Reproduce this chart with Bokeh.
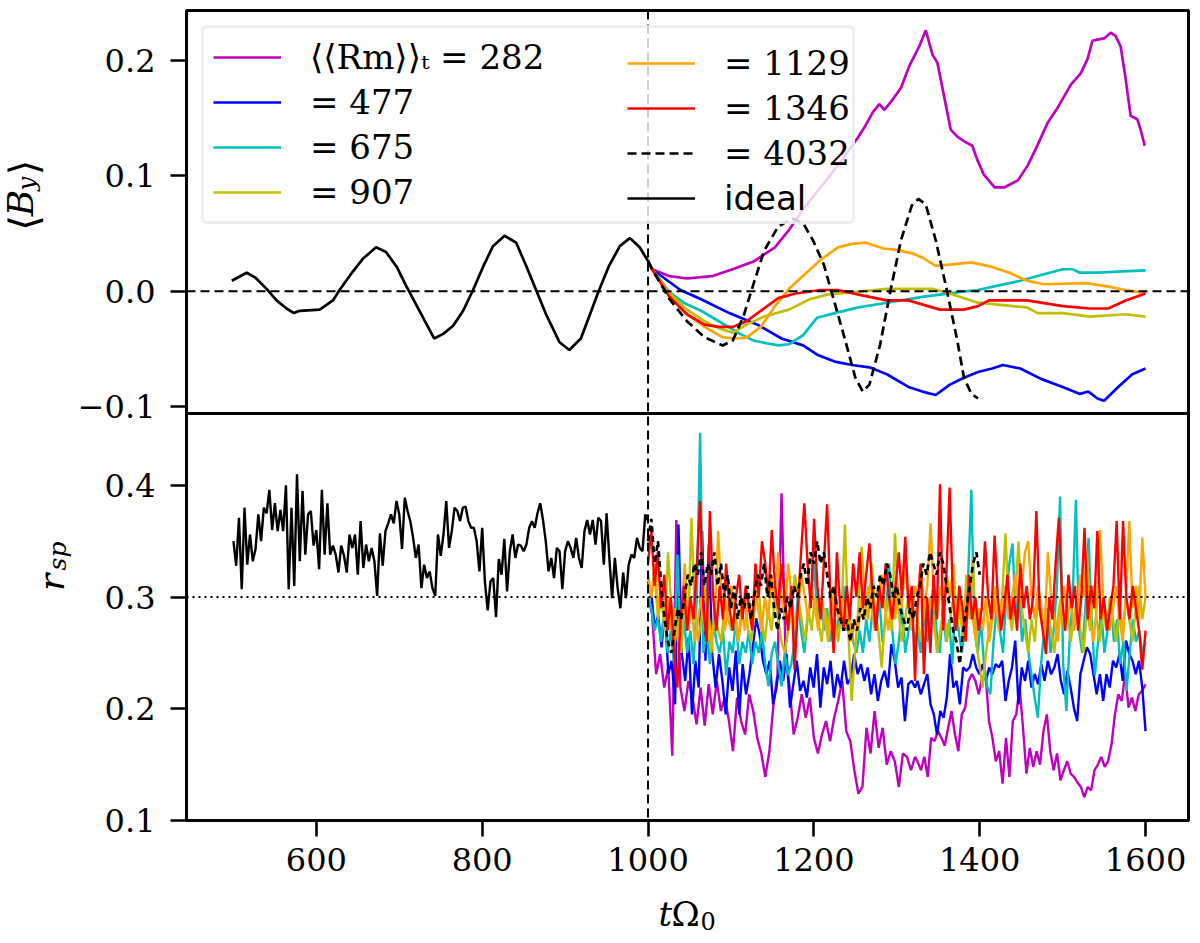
import numpy as np
from bokeh.plotting import figure
from bokeh.layouts import column, row
from bokeh.models import Range1d, FixedTicker, Span, Legend, LegendItem
from bokeh.core.properties import value
from bokeh.embed import file_html
from bokeh.resources import INLINE

# ---------------- data: top panel <B_y> ----------------
ideal_t_top = [498, 516, 526, 540, 552, 564, 573, 580, 604, 620, 628, 644, 656, 672, 684, 697, 708, 725,
               742, 753, 765, 777, 789, 801, 813, 827, 841, 853, 865, 877, 893, 905, 919, 929, 941, 953,
               966, 978, 990, 1000]
ideal_b_top = [0.009, 0.016, 0.012, 0.002, -0.008, -0.015, -0.019, -0.017, -0.016, -0.008, 0.001, 0.017,
               0.028, 0.038, 0.034, 0.021, 0.005, -0.018, -0.041, -0.037, -0.030, -0.017, 0.001, 0.021,
               0.039, 0.048, 0.042, 0.022, 0.001, -0.020, -0.044, -0.051, -0.041, -0.022, 0.001, 0.022,
               0.039, 0.046, 0.038, 0.026]

m_t = [1000, 1005, 1026, 1047, 1077, 1102, 1128, 1153, 1170, 1187, 1216, 1235, 1253, 1261, 1271, 1279, 1285,
       1293, 1305, 1315, 1327, 1335, 1343, 1349, 1357, 1365, 1373, 1381, 1391, 1397, 1405, 1418, 1430, 1446,
       1458, 1470, 1482, 1494, 1510, 1522, 1530, 1536, 1542, 1550, 1558, 1564, 1570, 1576, 1582, 1590, 1594, 1599]
m_b = [0.026, 0.019, 0.013, 0.011, 0.013, 0.019, 0.026, 0.038, 0.053, 0.071, 0.097, 0.115, 0.133, 0.142, 0.155,
       0.162, 0.157, 0.164, 0.176, 0.195, 0.212, 0.226, 0.205, 0.198, 0.169, 0.140, 0.134, 0.130, 0.126, 0.114,
       0.101, 0.090, 0.090, 0.096, 0.109, 0.127, 0.146, 0.159, 0.179, 0.189, 0.201, 0.217, 0.218, 0.219, 0.224,
       0.221, 0.212, 0.184, 0.152, 0.149, 0.140, 0.126]

b_t = [1000, 1005, 1039, 1064, 1098, 1132, 1161, 1187, 1204, 1225, 1246, 1267, 1288, 1314, 1331, 1347, 1364,
       1381, 1398, 1415, 1428, 1449, 1474, 1500, 1521, 1531, 1542, 1550, 1567, 1584, 1600]
b_b = [0.026, 0.019, 0.001, -0.007, -0.019, -0.029, -0.041, -0.047, -0.055, -0.061, -0.064, -0.066, -0.072,
       -0.083, -0.087, -0.090, -0.081, -0.075, -0.070, -0.067, -0.064, -0.067, -0.076, -0.083, -0.089, -0.087,
       -0.093, -0.095, -0.083, -0.072, -0.067]

c_t = [1000, 1005, 1026, 1043, 1064, 1090, 1111, 1128, 1157, 1170, 1187, 1204, 1225, 1254, 1288, 1331, 1373,
       1398, 1423, 1449, 1474, 1500, 1512, 1521, 1542, 1567, 1600]
c_b = [0.026, 0.019, -0.001, -0.010, -0.017, -0.028, -0.037, -0.043, -0.047, -0.046, -0.038, -0.023, -0.019,
       -0.014, -0.010, -0.005, -0.001, 0.001, 0.005, 0.009, 0.014, 0.019, 0.019, 0.016, 0.016, 0.017, 0.018]

y_t = [1000, 1005, 1026, 1047, 1068, 1085, 1102, 1119, 1140, 1170, 1195, 1216, 1246, 1288, 1343, 1364, 1398,
       1440, 1457, 1470, 1500, 1533, 1576, 1600]
y_b = [0.026, 0.019, -0.002, -0.016, -0.026, -0.032, -0.036, -0.029, -0.022, -0.016, -0.007, -0.003, -0.001,
       0.002, 0.002, -0.002, -0.010, -0.013, -0.014, -0.019, -0.019, -0.022, -0.020, -0.022]

o_t = [1000, 1005, 1026, 1047, 1068, 1090, 1107, 1119, 1136, 1153, 1170, 1191, 1208, 1229, 1246, 1263, 1284,
       1297, 1318, 1331, 1347, 1364, 1390, 1415, 1436, 1457, 1478, 1529, 1555, 1576, 1593, 1600]
o_b = [0.026, 0.019, -0.004, -0.020, -0.031, -0.040, -0.041, -0.040, -0.031, -0.013, 0.002, 0.016, 0.027,
       0.038, 0.041, 0.042, 0.037, 0.036, 0.033, 0.029, 0.022, 0.023, 0.025, 0.021, 0.016, 0.009, 0.006,
       0.007, 0.004, 0.001, -0.001, -0.001]

r_t = [1000, 1005, 1026, 1047, 1068, 1085, 1102, 1119, 1136, 1157, 1178, 1208, 1229, 1254, 1288, 1314, 1352,
       1381, 1398, 1411, 1457, 1500, 1533, 1555, 1576, 1600]
r_b = [0.026, 0.019, -0.005, -0.020, -0.029, -0.031, -0.031, -0.026, -0.017, -0.006, -0.002, 0.001, 0.001,
       -0.003, -0.008, -0.008, -0.016, -0.016, -0.013, -0.008, -0.008, -0.013, -0.015, -0.015, -0.008, -0.002]

d_t = [1000, 1005, 1026, 1047, 1068, 1090, 1102, 1115, 1128, 1140, 1157, 1174, 1187, 1199, 1212, 1225, 1238,
       1250, 1259, 1267, 1280, 1292, 1305, 1318, 1326, 1335, 1347, 1360, 1373, 1381, 1390, 1398]
d_b = [0.026, 0.019, -0.007, -0.026, -0.040, -0.047, -0.043, -0.022, 0.008, 0.035, 0.056, 0.063, 0.059, 0.044,
       0.023, -0.010, -0.043, -0.075, -0.087, -0.081, -0.046, -0.001, 0.044, 0.074, 0.080, 0.075, 0.044,
       0.002, -0.043, -0.075, -0.089, -0.093]

# ---------------- data: bottom panel r_sp ----------------
ideal_r = [.350, .328, .371, .307, .380, .329, .356, .332, .343, .374,
           .350, .380, .375, .396, .360, .384, .359, .378, .359, .400,
           .307, .380, .310, .410, .332, .395, .338, .374, .377, .346,
           .360, .325, .396, .338, .384, .338, .346, .338, .322, .346,
           .337, .322, .356, .344, .356, .320, .368, .326, .347, .332,
           .344, .332, .301, .357, .328, .359, .366, .374, .366, .386,
           .374, .343, .389, .377, .368, .353, .335, .347, .308, .329,
           .317, .323, .308, .301, .356, .337, .356, .386, .344, .359,
           .380, .377, .368, .380, .381, .368, .362, .362, .350, .323,
           .362, .313, .288, .314, .317, .282, .334, .320, .352, .305,
           .341, .356, .335, .347, .346, .341, .347, .362, .368, .362,
           .375, .384, .369, .350, .323, .335, .317, .344, .341, .307,
           .341, .350, .344, .335, .353, .335, .326, .359, .369, .356,
           .369, .347, .371, .368, .329, .375, .335, .299, .335, .308,
           .290, .322, .299, .329, .338, .335, .353, .344, .341, .374, .368]

m_r1 = [.300, .285, .231, .249, .219, .237, .158, .369, .219, .198, .225, .210, .186, .219, .185, .222, .195,
        .225, .198, .210, .189, .162, .210, .189, .177, .213, .198, .174, .160, .139, .162, .204, .231, .393,
        .249, .219, .177, .192, .213, .192, .210, .174, .160, .177, .189, .171, .192, .207, .225, .180, .171,
        .145, .124, .130, .183, .160, .198, .165, .183, .150, .162, .153, .130, .160, .157, .145, .157]
m_r2 = [.153, .145, .157, .139, .174, .171, .180, .174, .167, .183, .198, .177, .162, .195, .201, .225, .231,
        .225, .213, .228, .231, .189, .174, .153, .162, .133, .174, .139, .189, .195, .219, .183, .142, .165,
        .148, .162, .150, .180, .195, .162, .145, .160, .136, .145, .153, .142, .139, .134, .130, .121, .130,
        .127, .145, .150, .157, .148, .153, .168, .195, .213, .207, .231, .201, .210, .198, .213, .216, .222]

b_r1 = [.314, .302, .272, .284, .255, .290, .231, .243, .204, .365, .249, .225, .264, .195, .243, .219, .359,
        .243, .347, .249, .219, .249, .225, .195, .237, .216, .252, .195, .240, .213, .231, .255, .281, .267,
        .243, .231, .243, .204, .219, .243, .225, .249, .201, .222, .243, .216, .225, .210, .237, .219, .249,
        .201, .237, .222, .243, .210, .231, .219, .243, .222, .228, .249, .231, .240, .225, .237, .213, .231,
        .207, .225, .234, .219, .258, .243, .219, .228, .189, .222, .225, .219]
b_r2 = [.225, .213, .222, .231, .204, .195, .177, .198, .192, .210, .249, .219, .225, .204, .237, .234, .237,
        .249, .237, .231, .240, .225, .237, .231, .240, .237, .243, .207, .225, .237, .261, .204, .237, .225,
        .243, .219, .231, .222, .240, .225, .243, .231, .237, .249, .225, .213, .234, .219, .201, .189, .231,
        .243, .255, .249, .231, .213, .231, .207, .231, .219, .243, .237, .249, .225, .261, .249, .243, .231,
        .243, .219, .180]

c_r1 = [.30, .29, .27, .28, .26, .29, .25, .27, .24, .338, .26, .28, .25, .27, .24, .30, .447, .25, .27, .24,
        .28, .26, .25, .27, .23, .26, .25, .28, .24, .26, .25, .27, .24, .26, .25, .27, .24, .22, .25, .26,
        .24, .22, .25, .23, .24, .26, .30, .27, .25, .28, .30, .33, .28, .30, .27, .29, .26, .28, .27, .29,
        .31, .27, .28, .26, .25, .27, .25, .28, .26, .29, .27, .30, .26, .28, .33, .27, .24, .26, .29, .25,
        .27, .28, .26]
c_r2 = [.27, .25, .29, .26, .28, .31, .27, .25, .29, .26, .28, .24, .30, .27, .25, .28, .32, .396, .27, .25,
        .28, .24, .22, .213, .26, .29, .27, .25, .30, .33, .348, .28, .31, .26, .28, .25, .23, .21, .192, .24,
        .27, .29, .25, .27, .31, .390, .24, .198, .26, .30, .387, .27, .25, .29, .353, .28, .23, .26, .29, .25,
        .27, .30, .26, .28, .24, .26, .216, .25, .28, .26, .27, .25, .26]

y_r1 = [.31, .30, .32, .28, .30, .27, .34, .29, .26, .28, .25, .30, .27, .371, .29, .26, .28, .31, .27, .25,
        .29, .27, .26, .30, .28, .27, .29, .26, .28, .30, .27, .26, .29, .31, .28, .26, .29, .27, .30, .28,
        .26, .25, .27, .29, .32, .30, .28, .26, .29, .27, .30, .28, .26, .29, .27, .30, .28, .26, .29, .365,
        .27, .207, .25, .29, .345, .30, .28, .33, .29, .27, .237, .28, .30, .27, .357, .29, .26, .28, .30, .27, .29]
y_r2 = [.28, .26, .29, .27, .30, .28, .25, .27, .29, .26, .28, .30, .27, .29, .26, .32, .28, .335, .26, .24,
        .219, .25, .27, .29, .31, .28, .30, .357, .29, .27, .30, .350, .29, .27, .25, .28, .26, .30, .28, .26,
        .29, .27, .25, .28, .30, .27, .29, .26, .28, .30, .27, .25, .29, .27, .31, .28, .26, .29, .27, .30,
        .28, .26, .29, .27, .30, .28, .26, .29, .31, .28, .30]

o_r1 = [.32, .30, .33, .29, .31, .28, .30, .27, .29, .26, .28, .33, .27, .29, .26, .28, .30, .27, .29, .26,
        .28, .359, .30, .27, .29, .31, .28, .26, .29, .27, .30, .28, .31, .29, .27, .30, .28, .32, .29, .34,
        .30, .28, .33, .30, .27, .29, .32, .30, .28, .31, .29, .27, .30, .28, .26, .29, .31, .28, .30, .27,
        .29, .26, .28, .27, .30, .28, .31, .29, .27, .30, .32, .29, .27, .30, .28, .31, .29, .33, .30, .28, .31]
o_r2 = [.30, .33, .29, .31, .366, .30, .28, .31, .29, .32, .30, .33, .28, .30, .27, .29, .31, .28, .26, .29,
        .27, .30, .26, .28, .30, .27, .29, .31, .28, .30, .32, .29, .31, .34, .35, .30, .28, .31, .29, .27,
        .34, .30, .28, .26, .29, .31, .28, .30, .27, .29, .32, .30, .34, .28, .26, .29, .36, .30, .28, .27,
        .29, .31, .28, .26, .30, .368, .29, .31, .28, .353, .30]

r_r1 = [.33, .36, .31, .34, .29, .32, .27, .30, .25, .219, .28, .31, .27, .30, .28, .33, .386, .29, .26, .377,
        .30, .27, .31, .28, .33, .29, .27, .30, .32, .28, .31, .29, .27, .33, .30, .35, .33, .30, .36, .31,
        .29, .33, .30, .27, .31, .235, .29, .34, .384, .33, .29, .37, .31, .28, .33, .383, .30, .25, .34, .29,
        .27, .31, .28, .33, .30, .34, .29, .32, .348, .30, .27, .31, .29, .33, .30, .28, .31, .34, .30, .354,
        .29, .31, .225]
r_r2 = [.29, .33, .231, .30, .25, .32, .28, .401, .27, .32, .398, .30, .27, .31, .29, .26, .32, .28, .30, .27,
        .29, .35, .30, .28, .355, .30, .27, .29, .32, .28, .30, .27, .33, .29, .31, .28, .30, .377, .29, .27,
        .249, .30, .28, .33, .371, .30, .27, .32, .29, .31, .27, .30, .362, .28, .31, .29, .359, .28, .30, .27,
        .29, .31, .368, .28, .368, .30, .28, .31, .29, .27, .235, .27]

d_r = [.35, .37, .33, .35, .31, .28, .26, .25, .27, .29, .28, .30, .32, .31, .33, .32, .34, .31, .33, .32,
       .34, .31, .33, .30, .32, .29, .31, .28, .30, .29, .31, .28, .30, .32, .31, .33, .30, .32, .29, .27,
       .29, .28, .30, .29, .31, .30, .32, .33, .31, .34, .33, .35, .33, .34, .32, .30, .31, .29, .28, .27,
       .28, .26, .28, .27, .29, .28, .30, .29, .31, .30, .32, .31, .33, .32, .30, .31, .29, .28, .27, .29,
       .28, .30, .31, .33, .32, .34, .33, .32, .34, .33, .31, .29, .27, .26, .24, .27, .29, .31, .33, .34, .32]

labels_a = ["⟨⟨Rm⟩⟩ₜ = 282", "= 477", "= 675", "= 907"]
labels_b = ["= 1129", "= 1346", "= 4032"]
label_ideal = "ideal"
top_ticks = [-0.1, 0.0, 0.1, 0.2]
top_tick_labels = ["−0.1", "0.0", "0.1", "0.2"]
bot_ticks = [0.1, 0.2, 0.3, 0.4]
bot_tick_labels = ["0.1", "0.2", "0.3", "0.4"]
x_ticks = [600, 800, 1000, 1200, 1400, 1600]

MAG, BLU, CYA, YEL, ORA, RED = "#bf00bf", "#0000ff", "#00bfbf", "#bfbf00", "#ffa500", "#ff0000"
SERIF = "DejaVu Serif"
SANS = "DejaVu Sans"

# ---------------- panel geometry (two stacked panels in one frame) ----------------
TOP_LO, TOP_HI = -0.106, 0.2432
BOT_LO, BOT_HI = 0.1, 0.4643
H_TOP, H_BOT = 403, 407                       # pixel heights of the two panels
bot_upp = (BOT_HI - BOT_LO) / H_BOT           # units per pixel, bottom panel
top_upp = (TOP_HI - TOP_LO) / H_TOP           # units per pixel, top panel
y_main = Range1d(BOT_LO, BOT_HI + H_TOP * bot_upp)
y_top = Range1d(TOP_LO - H_BOT * top_upp, TOP_HI)


def top_to_main(v):
    return BOT_LO + (H_BOT + (v - TOP_LO) / top_upp) * bot_upp


def seg_times(t0, t1, n):
    return list(np.linspace(t0, t1, n))


def two_seg(s1, s2):
    return seg_times(1000, 1322, len(s1)) + seg_times(1325, 1600, len(s2)), list(s1) + list(s2)


def strip(w, h):
    s = figure(width=w, height=h, x_range=Range1d(0, w), y_range=Range1d(0, h), title=None,
               x_axis_location=None, y_axis_location=None, toolbar_location=None,
               output_backend="svg", min_border=0, outline_line_color=None,
               background_fill_color="white", border_fill_color="white")
    s.xgrid.visible = False
    s.ygrid.visible = False
    return s


def put_text(s, x, y, txt, size, italic=True, angle=0.0, align="center"):
    s.text(x=[x], y=[y], text=[txt], angle=angle, text_color="black",
           text_font=value(SERIF), text_font_size=value(size),
           text_font_style=value("italic" if italic else "normal"),
           text_align=value(align), text_baseline=value("alphabetic"))


# ---------------- main figure ----------------
p = figure(width=1118, height=888, x_range=Range1d(443.4, 1651.8), y_range=y_main, title=None,
           toolbar_location=None, output_backend="svg",
           min_border_left=111, min_border_right=4, min_border_top=10, min_border_bottom=68,
           background_fill_color="white", border_fill_color="white")
p.extra_y_ranges = {"top": y_top}
p.outline_line_color = "black"
p.outline_line_width = 3
p.xgrid.visible = False
p.ygrid.visible = False
for ax in p.axis:
    ax.axis_line_width = 3
    ax.axis_line_color = "black"
    ax.major_tick_line_width = 2.6
    ax.major_tick_line_color = "black"
    ax.major_tick_out = 16
    ax.major_tick_in = 0
    ax.minor_tick_line_color = None
    ax.major_label_text_font = SERIF
    ax.major_label_text_font_size = "32px"
    ax.major_label_text_color = "black"
p.yaxis.major_label_standoff = 15
p.xaxis.major_label_standoff = 11
p.xaxis.ticker = FixedTicker(ticks=x_ticks)

tick_pos = [top_to_main(v) for v in top_ticks] + list(bot_ticks)
tick_txt = top_tick_labels + bot_tick_labels
p.yaxis.ticker = FixedTicker(ticks=tick_pos)
p.yaxis.major_label_overrides = {tp: tt for tp, tt in zip(tick_pos, tick_txt)}

# reference lines
p.add_layout(Span(location=0, dimension="width", y_range_name="top", line_color="black",
                  line_width=2, line_dash="9 5"))
p.add_layout(Span(location=0.3, dimension="width", line_color="black", line_width=2, line_dash="2 4"))
p.add_layout(Span(location=1000, dimension="height", line_color="black", line_width=2, line_dash="9 5"))
p.add_layout(Span(location=BOT_HI, dimension="width", line_color="black", line_width=3))

# top panel lines
LW = 2.7
kw_top = dict(y_range_name="top", line_width=LW)
rm = p.line(m_t, m_b, line_color=MAG, **kw_top)
rb = p.line(b_t, b_b, line_color=BLU, **kw_top)
rc = p.line(c_t, c_b, line_color=CYA, **kw_top)
ry = p.line(y_t, y_b, line_color=YEL, **kw_top)
ro = p.line(o_t, o_b, line_color=ORA, **kw_top)
rr = p.line(r_t, r_b, line_color=RED, **kw_top)
rd = p.line(d_t, d_b, line_color="black", line_dash="9 5", **kw_top)
ri = p.line(ideal_t_top, ideal_b_top, line_color="black", **kw_top)

# bottom panel lines
BW = 2.4
p.line(seg_times(500, 1000, len(ideal_r)), ideal_r, line_color="black", line_width=BW)
for s1, s2, col in [(m_r1, m_r2, MAG), (b_r1, b_r2, BLU), (c_r1, c_r2, CYA), (y_r1, y_r2, YEL),
                    (o_r1, o_r2, ORA), (r_r1, r_r2, RED)]:
    tt, vv = two_seg(s1, s2)
    p.line(tt, vv, line_color=col, line_width=BW)
p.line(seg_times(1000, 1400, len(d_r)), d_r, line_color="black", line_width=2.7, line_dash="6 4")

# legend (two columns built from three legends)
common = dict(label_text_font_size="34px", label_text_color="black",
              glyph_width=68, glyph_height=36, label_height=36, label_standoff=29, spacing=5,
              padding=9, label_text_baseline="middle")
leg_a = Legend(items=[LegendItem(label=l, renderers=[r]) for l, r in zip(labels_a, [rm, rb, rc, ry])],
               location="top_left", margin=15, label_width=533, label_text_font=SERIF,
               border_line_color="#dddddd", border_line_width=3,
               background_fill_color="white", background_fill_alpha=0.8, **common)
if "border_radius" in Legend.properties():
    leg_a.border_radius = 6
leg_b = Legend(items=[LegendItem(label=l, renderers=[r]) for l, r in zip(labels_b, [ro, rr, rd])],
               location=(441, 240 + H_BOT), margin=0, border_line_color=None, background_fill_alpha=0.0,
               label_text_font=SERIF, **common)
leg_c = Legend(items=[LegendItem(label=label_ideal, renderers=[ri])],
               location=(441, 195 + H_BOT), margin=0, border_line_color=None, background_fill_alpha=0.0,
               label_text_font=SANS, **common)
p.add_layout(leg_a)
p.add_layout(leg_b)
p.add_layout(leg_c)

# ---------------- axis-label strips ----------------
ROT = np.pi / 2
ls = strip(74, 888)
put_text(ls, 23, 655, "⟨", "40px", italic=False, angle=ROT)     # <B_y>
put_text(ls, 20, 677, "B", "36px", angle=ROT)
put_text(ls, 26, 698, "y", "25px", angle=ROT)
put_text(ls, 23, 716, "⟩", "40px", italic=False, angle=ROT)
put_text(ls, 51, 261, "r", "36px", angle=ROT)                    # r_sp
put_text(ls, 57, 290, "sp", "25px", angle=ROT)

xl = strip(1192, 55)         # t Omega_0
put_text(xl, 658, 30, "t", "34px", align="left")
put_text(xl, 671, 30, "Ω", "34px", italic=False, align="left")
put_text(xl, 700, 23, "0", "24px", italic=False, align="left")

layout = column(row(ls, p), xl)
open("out.html", "w").write(file_html(layout, INLINE))
